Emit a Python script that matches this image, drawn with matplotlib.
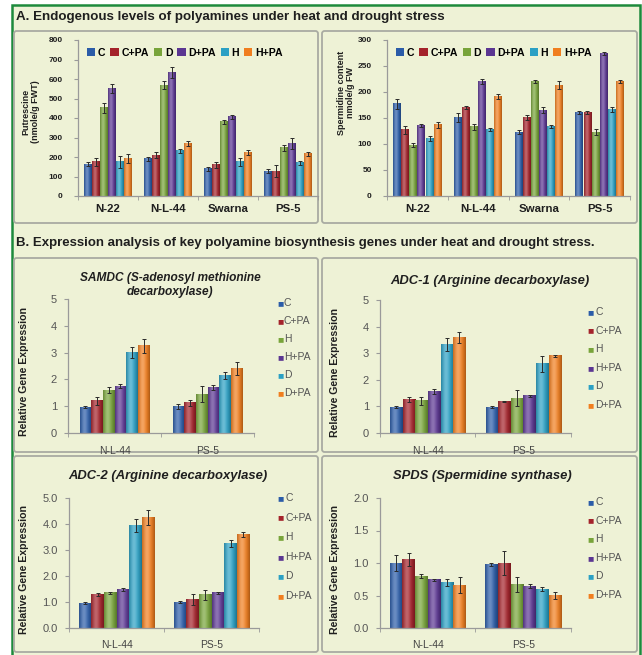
import matplotlib
matplotlib.use("Agg")
import matplotlib.pyplot as plt
from matplotlib.patches import Rectangle, FancyBboxPatch, Patch
from matplotlib.colors import to_rgb
import numpy as np

plt.rcParams['font.family'] = ['Liberation Sans', 'DejaVu Sans']

W, H = 642, 655

# ---------------- data ----------------
cultivars = ["N-22", "N-L-44", "Swarna", "PS-5"]
top_treatments = ["C", "C+PA", "D", "D+PA", "H", "H+PA"]

putrescine = {
    "C":    [163, 192, 140, 127],
    "C+PA": [175, 209, 161, 128],
    "D":    [452, 568, 380, 248],
    "D+PA": [551, 634, 406, 269],
    "H":    [175, 231, 175, 171],
    "H+PA": [192, 269, 223, 217],
}
putrescine_err = {
    "C":    [10, 10, 10, 10],
    "C+PA": [20, 15, 15, 30],
    "D":    [25, 20, 12, 15],
    "D+PA": [25, 30, 10, 30],
    "H":    [30, 12, 20, 10],
    "H+PA": [25, 12, 12, 10],
}
spermidine = {
    "C":    [177, 151, 123, 160],
    "C+PA": [127, 170, 151, 160],
    "D":    [98, 133, 220, 123],
    "D+PA": [136, 220, 165, 274],
    "H":    [110, 128, 134, 167],
    "H+PA": [137, 191, 213, 221],
}
spermidine_err = {
    "C":    [10, 8, 3, 3],
    "C+PA": [8, 3, 5, 3],
    "D":    [3, 6, 3, 6],
    "D+PA": [3, 5, 6, 3],
    "H":    [5, 3, 3, 5],
    "H+PA": [6, 5, 8, 3],
}

genotypes = ["N-L-44", "PS-5"]
gene_treatments = ["C", "C+PA", "H", "H+PA", "D", "D+PA"]

samdc = {"C": [0.97, 1.00], "C+PA": [1.20, 1.12], "H": [1.60, 1.45],
         "H+PA": [1.75, 1.70], "D": [3.00, 2.15], "D+PA": [3.25, 2.40]}
samdc_err = {"C": [0.03, 0.10], "C+PA": [0.15, 0.10], "H": [0.10, 0.30],
             "H+PA": [0.08, 0.10], "D": [0.20, 0.12], "D+PA": [0.25, 0.25]}

adc1 = {"C": [0.97, 0.97], "C+PA": [1.27, 1.20], "H": [1.22, 1.30],
        "H+PA": [1.55, 1.40], "D": [3.32, 2.60], "D+PA": [3.60, 2.90]}
adc1_err = {"C": [0.03, 0.03], "C+PA": [0.10, 0.02], "H": [0.15, 0.30],
            "H+PA": [0.10, 0.03], "D": [0.25, 0.30], "D+PA": [0.20, 0.05]}

adc2 = {"C": [0.96, 1.00], "C+PA": [1.30, 1.10], "H": [1.35, 1.27],
        "H+PA": [1.47, 1.35], "D": [3.95, 3.25], "D+PA": [4.25, 3.60]}
adc2_err = {"C": [0.03, 0.03], "C+PA": [0.05, 0.20], "H": [0.05, 0.20],
            "H+PA": [0.05, 0.05], "D": [0.25, 0.15], "D+PA": [0.30, 0.10]}

spds = {"C": [1.00, 0.98], "C+PA": [1.05, 1.00], "H": [0.80, 0.67],
        "H+PA": [0.74, 0.64], "D": [0.70, 0.60], "D+PA": [0.66, 0.50]}
spds_err = {"C": [0.12, 0.02], "C+PA": [0.10, 0.18], "H": [0.03, 0.12],
            "H+PA": [0.02, 0.03], "D": [0.05, 0.03], "D+PA": [0.12, 0.05]}

palette = ["#2b5ca8", "#a4232b", "#78a43a", "#5b3692", "#2ba0c4", "#f07e1f"]

BG = "#eef2d6"
PANEL_EDGE = "#a9aba2"
TEXT = "#1f1f1f"
AXIS = "#9a9a9a"

fig = plt.figure(figsize=(W / 100, H / 100), dpi=100)
fig.patch.set_facecolor("white")


def fx(px):
    return px / W


def fy(py):
    return 1 - py / H


def axes_px(left, top, right, bottom):
    ax = fig.add_axes([fx(left), fy(bottom), (right - left) / W, (bottom - top) / H])
    ax.set_zorder(5)
    return ax


# outer frame
fig.patches.append(Rectangle((fx(12), fy(660)), fx(640) - fx(12), fy(5) - fy(660),
                             transform=fig.transFigure, facecolor=BG,
                             edgecolor="#1d8a3c", linewidth=1.8, zorder=-3))

# panels
for (l, t, r, b) in [(14, 31, 318, 223), (322, 31, 637, 223),
                     (14, 258, 318, 452), (322, 258, 637, 452),
                     (14, 456, 318, 652), (322, 456, 637, 652)]:
    fig.patches.append(FancyBboxPatch((fx(l), fy(b)), fx(r) - fx(l), fy(t) - fy(b),
                                      boxstyle="round,pad=0,rounding_size=0.004",
                                      transform=fig.transFigure, facecolor=BG,
                                      edgecolor=PANEL_EDGE, linewidth=1.3, zorder=-2))

fig.text(fx(16), fy(17), "A. Endogenous levels of polyamines under heat and drought stress",
         fontsize=9.6, fontweight="bold", color=TEXT, va="center", ha="left")
fig.text(fx(16), fy(243),
         "B. Expression analysis of key polyamine biosynthesis genes under heat and drought stress.",
         fontsize=9.5, fontweight="bold", color=TEXT, va="center", ha="left")


def style_axes(ax, ncat):
    ax.set_facecolor("none")
    for s in ["top", "right"]:
        ax.spines[s].set_visible(False)
    for s in ["left", "bottom"]:
        ax.spines[s].set_color(AXIS)
        ax.spines[s].set_linewidth(0.9)
    ax.set_xticks(np.arange(ncat))
    ax.set_xticks(np.arange(ncat + 1) - 0.5, minor=True)
    ax.tick_params(axis="x", which="major", length=0, pad=6)
    ax.tick_params(axis="x", which="minor", length=3, color=AXIS, direction="out")
    ax.tick_params(axis="y", length=3, color=AXIS, direction="out", pad=8)


def shade_bar(ax, rect, color):
    """Give a bar a soft left-to-right cylinder shading."""
    base = np.array(to_rgb(color))
    t = np.linspace(0, 1, 32)
    light = 0.30 * np.exp(-((t - 0.38) / 0.28) ** 2)
    dark = 0.28 * (np.abs(t - 0.45) / 0.55) ** 2.2
    rgb = base[None, :] * (1 - dark[:, None]) + (1 - base[None, :]) * light[:, None]
    img = np.clip(rgb, 0, 1)[None, :, :]
    x0, y0 = rect.get_x(), rect.get_y()
    ax.imshow(img, extent=(x0, x0 + rect.get_width(), y0, y0 + rect.get_height()),
              aspect="auto", interpolation="bilinear", zorder=2.1)


def draw_bars(ax, treatments, values, errors, group_width):
    n = len(treatments)
    bw = group_width / n
    x = np.arange(len(next(iter(values.values()))))
    for i, t in enumerate(treatments):
        pos = x - group_width / 2 + bw * (i + 0.5)
        bars = ax.bar(pos, values[t], width=bw * 0.97, color=palette[i],
                      edgecolor="none", zorder=2)
        for rect in bars:
            shade_bar(ax, rect, palette[i])
        ax.errorbar(pos, values[t], yerr=errors[t], fmt="none",
                    ecolor="#2a2a2a", elinewidth=0.7, capsize=1.2,
                    capthick=0.7, zorder=3)


# ---------------- Part A ----------------
def top_chart(rect, values, errors, ymax, ystep, ylabel, label_xy):
    ax = axes_px(*rect)
    style_axes(ax, len(cultivars))
    draw_bars(ax, top_treatments, values, errors, 0.8)
    ax.set_xlim(-0.5, len(cultivars) - 0.5)
    ax.set_ylim(0, ymax)
    ax.set_yticks(np.arange(0, ymax + 1, ystep))
    ax.set_xticklabels(cultivars, fontsize=8.2, fontweight="bold", color=TEXT)
    for lab in ax.get_yticklabels():
        lab.set_fontsize(6)
        lab.set_fontweight("bold")
        lab.set_color(TEXT)
    fig.text(fx(label_xy[0]), fy(label_xy[1]), ylabel, rotation=90,
             fontsize=6.5, fontweight="bold", color=TEXT, ha="center", va="center",
             linespacing=1.1)
    handles = [Patch(facecolor=palette[i], edgecolor="none") for i in range(6)]
    ax.legend(handles, top_treatments, ncol=6, loc="center left",
              bbox_to_anchor=(fx(rect[0] + 9), fy(53)),
              bbox_transform=fig.transFigure, frameon=False,
              handlelength=0.8, handleheight=0.8, handletextpad=0.25,
              columnspacing=0.45, borderaxespad=0, borderpad=0,
              prop={"size": 7.6, "weight": "bold"})
    return ax


top_chart((78, 40, 318, 196), putrescine, putrescine_err, 800, 100,
          "Putrescine\n(nmole/g FWT)", (31, 112))
top_chart((387, 40, 630, 196), spermidine, spermidine_err, 300, 50,
          "Spermidine content\nnmole/g FW", (346, 93))


# ---------------- Part B ----------------
def gene_chart(rect, values, errors, ymax, ystep, fmt, title, title_size, title_xy,
               legend_xy, legend_gap, group_width, ylabel_x):
    ax = axes_px(*rect)
    style_axes(ax, len(genotypes))
    draw_bars(ax, gene_treatments, values, errors, group_width)
    ax.set_xlim(-0.5, len(genotypes) - 0.5)
    ax.set_ylim(0, ymax)
    ticks = np.arange(0, ymax + 1e-9, ystep)
    ax.set_yticks(ticks)
    ax.set_yticklabels([fmt.format(v) for v in ticks], fontsize=8, color="#555555")
    ax.tick_params(axis="y", pad=5)
    ax.set_xticklabels(genotypes, fontsize=7.5, color="#444444")
    ax.tick_params(axis="x", which="major", pad=9)
    fig.text(fx(ylabel_x), fy((rect[1] + rect[3]) / 2 + 6), "Relative Gene Expression",
             rotation=90, fontsize=7.6, fontweight="bold", color=TEXT,
             ha="center", va="center")
    fig.text(fx(title_xy[0]), fy(title_xy[1]), title, fontsize=title_size,
             fontweight="bold", style="italic", color=TEXT, ha="center", va="center",
             linespacing=1.25)
    for i, t in enumerate(gene_treatments):
        yy = legend_xy[1] + i * legend_gap
        fig.text(fx(legend_xy[0]), fy(yy), "\u25A0", fontsize=7.5, color=palette[i],
                 ha="center", va="center")
        fig.text(fx(legend_xy[0] + 4), fy(yy), t, fontsize=7.5, color="#555555",
                 ha="left", va="center")
    return ax


gene_chart((68, 299, 254, 433), samdc, samdc_err, 5, 1, "{:.0f}",
           "SAMDC (S-adenosyl methionine\ndecarboxylase)", 8.6, (170, 285),
           (280, 303), 18, 0.75, 24)
gene_chart((380, 300, 571, 433), adc1, adc1_err, 5, 1, "{:.0f}",
           "ADC-1 (Arginine decarboxylase)", 9.4, (490, 281),
           (591, 312), 18.6, 0.79, 335)
gene_chart((69, 498, 259, 628), adc2, adc2_err, 5, 1, "{:.1f}",
           "ADC-2 (Arginine decarboxylase)", 9.4, (168, 476),
           (281, 498), 19.6, 0.8, 24)
gene_chart((380, 498, 571, 628), spds, spds_err, 2, 0.5, "{:.1f}",
           "SPDS (Spermidine synthase)", 9.4, (482, 476),
           (591, 502), 18.6, 0.8, 335)

fig.savefig("out.png", dpi=100, facecolor=fig.get_facecolor())
